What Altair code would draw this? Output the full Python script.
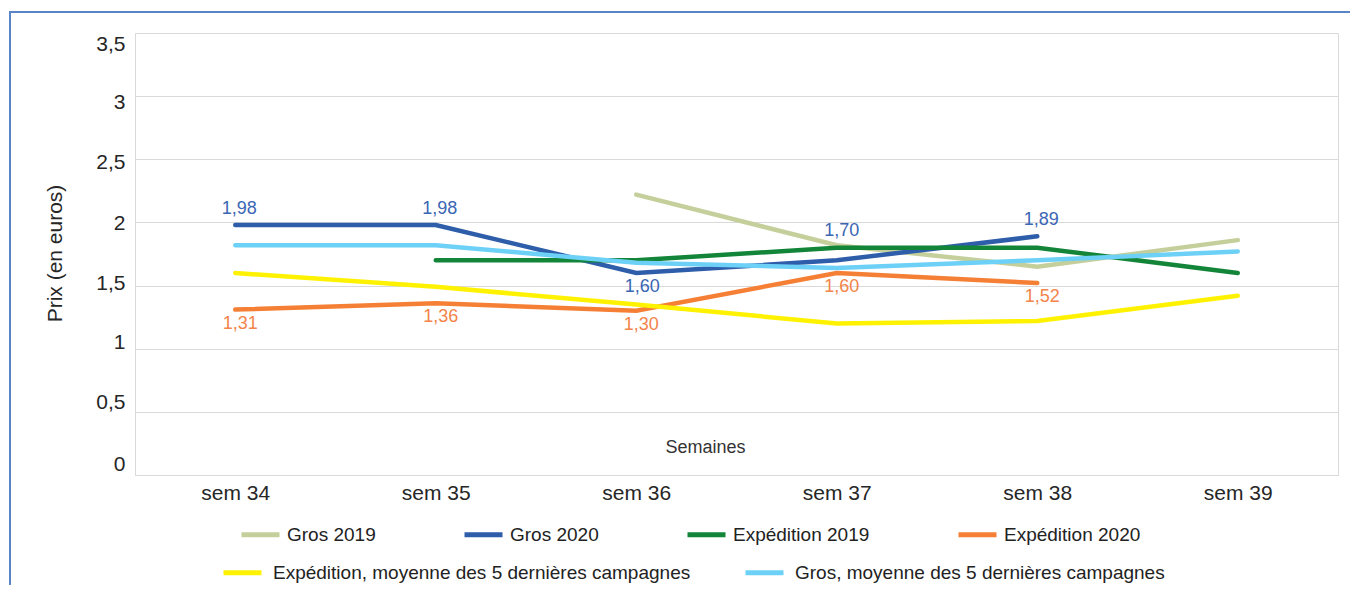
import altair as alt
import pandas as pd

weeks = ["sem 34", "sem 35", "sem 36", "sem 37", "sem 38", "sem 39"]

series_main = ["Gros 2019", "Gros 2020", "Expédition 2019", "Expédition 2020"]
colors_main = ["#C4CF9B", "#2E5DAA", "#138539", "#F58035"]
series_avg = ["Expédition, moyenne des 5 dernières campagnes",
              "Gros, moyenne des 5 dernières campagnes"]
colors_avg = ["#FFF200", "#6DD0F7"]

gros_2019 = [None, None, 2.22, 1.82, 1.65, 1.86]
gros_2020 = [1.98, 1.98, 1.60, 1.70, 1.89, None]
exp_2019 = [None, 1.70, 1.70, 1.80, 1.80, 1.60]
exp_2020 = [1.31, 1.36, 1.30, 1.60, 1.52, None]
exp_moy = [1.60, 1.49, 1.35, 1.20, 1.22, 1.42]
gros_moy = [1.82, 1.82, 1.68, 1.64, 1.70, 1.77]

y_ticks = [0, 0.5, 1, 1.5, 2, 2.5, 3, 3.5]


def long(names, lists):
    rows = []
    for name, vals in zip(names, lists):
        for w, v in zip(weeks, vals):
            if v is not None:
                rows.append({"semaine": w, "prix": v, "serie": name})
    return pd.DataFrame(rows)


df_main = long(series_main, [gros_2019, gros_2020, exp_2019, exp_2020])
df_avg = long(series_avg, [exp_moy, gros_moy])

W, H = 1203, 442
FONT = "Liberation Sans"

x_enc = alt.X(
    "semaine:N", sort=weeks,
    scale=alt.Scale(type="band", paddingInner=0, paddingOuter=0),
    bandPosition=0.5,
    axis=alt.Axis(title="Semaines", tickBand="extent", ticks=False, domain=False,
                  labelAngle=0, labelFontSize=21, labelPadding=7, labelColor="#262626",
                  labelFont=FONT, gridColor="#D9D9D9", gridWidth=1,
                  titleX=570, titleY=-28, titleFontSize=18, titleFontWeight="normal",
                  titleColor="#333333", titleFont=FONT, titleBaseline="middle",
                  titleAlign="center"),
)
y_enc = alt.Y(
    "prix:Q",
    scale=alt.Scale(domain=[0, 3.5], nice=False, zero=True),
    axis=alt.Axis(title="Prix (en euros)", values=y_ticks,
                  labelExpr="replace(format(datum.value, '~g'), '.', ',')",
                  labelOffset={"condition": [
                      {"test": "datum.value == 3.5", "value": 11},
                      {"test": "datum.value == 3", "value": 6},
                      {"test": "datum.value == 2.5", "value": 3},
                      {"test": "datum.value == 2", "value": 1},
                      {"test": "datum.value == 1.5", "value": -2},
                      {"test": "datum.value == 1", "value": -6},
                      {"test": "datum.value == 0.5", "value": -9},
                      {"test": "datum.value == 0", "value": -11}], "value": 0},
                  ticks=False, domain=False, labelFontSize=21, labelPadding=10,
                  labelColor="#262626", labelFont=FONT, gridColor="#D9D9D9",
                  titleX=-80, titleY=220, titleFontSize=21, titleFontWeight="normal",
                  titleColor="#262626", titleFont=FONT, titleAngle=-90,
                  titleAlign="center", titleBaseline="middle"),
)

frame = alt.Chart(pd.DataFrame({"a": [0]})).mark_rect(
    fill=None, stroke="#5B84C6", strokeWidth=2, clip=False
).encode(x=alt.value(-125), y=alt.value(-21), x2=alt.value(W + 60), y2=alt.value(H + 160))

main = alt.Chart(df_main).mark_line(strokeWidth=4.5, strokeCap="round").encode(
    x=x_enc, y=y_enc,
    color=alt.Color("serie:N", scale=alt.Scale(domain=series_main, range=colors_main),
                    sort=series_main,
                    legend=alt.Legend(title=None, orient="none", legendX=104, legendY=480,
                                      direction="horizontal", symbolType="stroke",
                                      symbolSize=1444, symbolStrokeWidth=5,
                                      labelFontSize=19, labelFont=FONT, labelColor="#222222",
                                      labelOffset=5, columnPadding=78, labelLimit=600)),
)

avg = alt.Chart(df_avg).mark_line(strokeWidth=4.5, strokeCap="round").encode(
    x=x_enc, y=y_enc,
    stroke=alt.Stroke("serie:N", scale=alt.Scale(domain=series_avg, range=colors_avg),
                      sort=series_avg,
                      legend=alt.Legend(title=None, orient="none", legendX=86, legendY=518,
                                        direction="horizontal", symbolType="stroke",
                                        symbolSize=1444, symbolStrokeWidth=5,
                                        labelFontSize=19, labelFont=FONT, labelColor="#222222",
                                        labelOffset=9, columnPadding=44, labelLimit=800)),
)

lab_base = alt.Chart(df_main).transform_calculate(
    label="replace(format(datum.prix, '.2f'), '.', ',')"
)
BLUE_TXT = "#3A66B4"
ORANGE_TXT = "#F3844A"

blue_above = lab_base.transform_filter(
    "datum.serie == 'Gros 2020' && datum.semaine != 'sem 36' && datum.semaine != 'sem 37'"
).mark_text(dx=4, dy=-16, fontSize=18, font=FONT, color=BLUE_TXT).encode(
    x=x_enc, y=y_enc, text="label:N")
blue_high = lab_base.transform_filter(
    "datum.serie == 'Gros 2020' && datum.semaine == 'sem 37'"
).mark_text(dx=5, dy=-29, fontSize=18, font=FONT, color=BLUE_TXT).encode(
    x=x_enc, y=y_enc, text="label:N")
blue_below = lab_base.transform_filter(
    "datum.serie == 'Gros 2020' && datum.semaine == 'sem 36'"
).mark_text(dx=6, dy=14, fontSize=18, font=FONT, color=BLUE_TXT).encode(
    x=x_enc, y=y_enc, text="label:N")
orange_below = lab_base.transform_filter(
    "datum.serie == 'Expédition 2020'"
).mark_text(dx=5, dy=14, fontSize=18, font=FONT, color=ORANGE_TXT).encode(
    x=x_enc, y=y_enc, text="label:N")

chart = alt.layer(frame, main, avg, blue_above, blue_high, blue_below, orange_below).resolve_scale(
    color="independent", stroke="independent"
).properties(
    width=W, height=H,
    autosize=alt.AutoSizeParams(type="none"),
    padding={"left": 127, "top": 25, "right": 12, "bottom": 110},
).configure_view(stroke="#D9D9D9", strokeWidth=1)

chart.save("out.html", embed_options={"renderer": "svg", "actions": False})
